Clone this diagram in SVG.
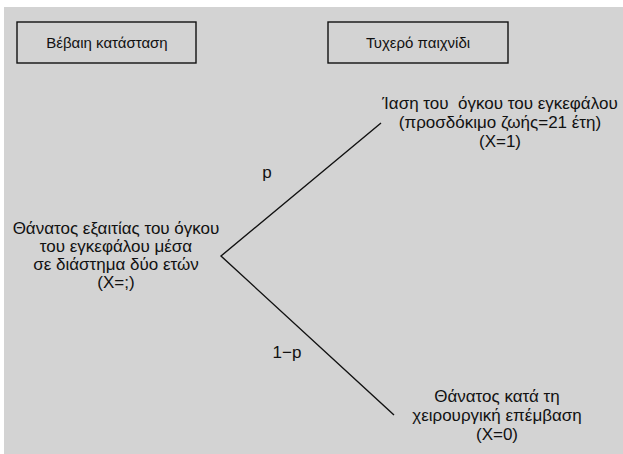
<svg xmlns="http://www.w3.org/2000/svg" width="623" height="454" viewBox="0 0 623 454">
  <style>
    .panel { fill: #d3d3d3; }
    .box { fill: #d3d3d3; stroke: #111; stroke-width: 1.4; }
    .lbl { font-family: "Liberation Sans", "DejaVu Sans", sans-serif; font-size: 17px; fill: #111; text-anchor: middle; white-space: pre; }
    .head { font-size: 15px; }
    .edge { stroke: #111; stroke-width: 1.4; fill: none; }
  </style>
  <rect class="panel" x="4" y="7" width="619" height="447"/>

  <g id="certain-state">
    <rect class="box" x="17" y="22" width="179" height="41"/>
    <text class="lbl head" x="107" y="48">Βέβαιη κατάσταση</text>
  </g>

  <g id="lottery">
    <rect class="box" x="328" y="22" width="180" height="41"/>
    <text class="lbl head" x="418" y="48">Τυχερό παιχνίδι</text>
  </g>

  <g id="connectors">
    <polyline class="edge" points="381,123 221,256 394,415"/>
    <text class="lbl" x="267" y="178">p</text>
    <text class="lbl" x="287" y="358">1−p</text>
  </g>

  <g id="death-tumour">
    <text class="lbl" x="116" y="234">Θάνατος εξαιτίας του όγκου</text>
    <text class="lbl" x="116" y="252">του εγκεφάλου μέσα</text>
    <text class="lbl" x="116" y="270">σε διάστημα δύο ετών</text>
    <text class="lbl" x="116" y="288">(X=;)</text>
  </g>

  <g id="cure">
    <text class="lbl" x="500" y="109">Ίαση του  όγκου του εγκεφάλου</text>
    <text class="lbl" x="500" y="128">(προσδόκιμο ζωής=21 έτη)</text>
    <text class="lbl" x="500" y="147">(X=1)</text>
  </g>

  <g id="death-surgery">
    <text class="lbl" x="497" y="402">Θάνατος κατά τη</text>
    <text class="lbl" x="497" y="421">χειρουργική επέμβαση</text>
    <text class="lbl" x="497" y="440">(X=0)</text>
  </g>
</svg>
